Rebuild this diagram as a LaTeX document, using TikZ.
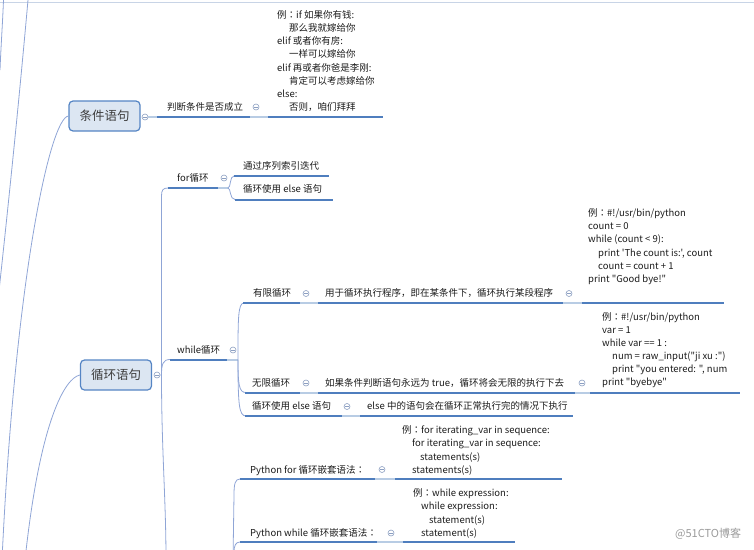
\documentclass[tikz,border=0pt]{standalone}
\usepackage{fontspec}
\newfontfamily\cjk{Noto Sans CJK SC}
\newfontfamily\cjktc{Noto Sans CJK TC}
\newcommand\fwcolon{{\cjktc ：}}
\definecolor{uld}{HTML}{4F7EBE}
\definecolor{ull}{HTML}{B8CCE4}
\definecolor{cnc}{HTML}{8FA5D6}
\definecolor{togc}{HTML}{8C9FC2}
\definecolor{mnf}{HTML}{DCE6F2}
\definecolor{mnb}{HTML}{5585C4}
\definecolor{txc}{HTML}{1C1C1C}
\definecolor{wmc}{HTML}{9A9A9A}
\definecolor{topc}{HTML}{C8D4E6}
\tikzset{
 ul/.style={draw=uld, line width=2pt},
 ulL/.style={draw=ull, line width=2pt},
 conn/.style={draw=cnc, line width=0.8pt},
 tog/.style={circle, draw=togc, fill=white, minimum size=6pt, inner sep=0pt, line width=0.6pt,
   path picture={\draw[togc, line width=0.6pt] ([xshift=-1.7pt]path picture bounding box.center) -- ([xshift=1.7pt]path picture bounding box.center);}},
 lbl/.style={anchor=base west, inner sep=0pt, font=\cjk\fontsize{9.5}{11}\selectfont, text=txc},
 mainnode/.style={draw=mnb, fill=mnf, line width=1.2pt, rounded corners=4pt, minimum width=71pt, minimum height=30pt, font=\cjk\fontsize{12.5}{14}\selectfont, text=txc!85, inner sep=0pt},
 wm/.style={anchor=base west, inner sep=0pt, font=\cjk\fontsize{11}{13}\selectfont, text=wmc}
}
\begin{document}
\begin{tikzpicture}[x=1pt,y=-1pt]
\useasboundingbox (0,0) rectangle (754,549);
\clip (0,0) rectangle (754,549);
% top border and far-left lines
\draw[topc, line width=0.8pt] (0,2.5) -- (754,2.5);
\draw[conn] (3.5,0) .. controls (2.5,25) and (1,45) .. (0,70);
\draw[conn] (28,0) .. controls (20,90) and (10,190) .. (-2,300);

% main nodes
\node[mainnode] (cond) at (104.5,116) {条件语句};
\node[mainnode] (loop) at (116,375) {循环语句};
\draw[conn] (cond.west) .. controls (50,118) and (15,280) .. (2,560);
\draw[conn] (loop.west) .. controls (65,378) and (40,420) .. (25,560);

% ---------- 条件语句 branch
\node[tog] (tc) at (145,117) {};
\node[lbl] (pd) at (167,110.5) {判断条件是否成立};
\node[tog] (tpd) at (256,107) {};
\draw[ulL] (tc.east) -- (157,117);
\draw[ul] (157,117) -- (250,117);
\draw[ulL] (250,117) -- (268,117);
\draw[ul] (268,117) -- (383,117);
\node[lbl] (c1) at (277,18.5) {例\fwcolon if 如果你有钱:};
\node[lbl] (c2) at (289,31.64) {那么我就嫁给你};
\node[lbl] (c3) at (277,44.78) {elif 或者你有房:};
\node[lbl] (c4) at (289,57.92) {一样可以嫁给你};
\node[lbl] (c5) at (277,71.06) {elif 再或者你爸是李刚:};
\node[lbl] (c6) at (289,84.2) {肯定可以考虑嫁给你};
\node[lbl] (c7) at (277,97.34) {else:};
\node[lbl] (c8) at (289,110.5) {否则，咱们拜拜};

% ---------- 循环语句 spine
\node[tog] (tl) at (157,375) {};
\draw[conn] (tl.east) -- (161.5,375) -- (161.5,196) .. controls (161.5,190) and (163,188) .. (168,188);
\draw[conn] (161.5,375) .. controls (161.5,364) and (163,359.5) .. (170,359.5);
\draw[conn] (161.5,375) .. controls (161.5,450) and (166,500) .. (166,560);

% for循环
\node[lbl] (forl) at (177,181.5) {for循环};
\draw[ul] (168,188) -- (218,188);
\draw[ulL] (218,188) -- (228,188);
\node[tog] (tfor) at (224,178) {};
\draw[conn] (228,188) .. controls (231,188) and (229.5,176) .. (234,176);
\draw[conn] (228,188) .. controls (231,188) and (229.5,199.5) .. (235,199.5);
\node[lbl] (f1) at (243,169.5) {通过序列索引迭代};
\draw[ul] (234,176) -- (329,176);
\node[lbl] (f2) at (243,192.5) {循环使用 else 语句};
\draw[ul] (235,199.5) -- (333,199.5);

% while循环
\node[lbl] (whl) at (177,353.5) {while循环};
\draw[ul] (170,359.5) -- (227,359.5);
\draw[ulL] (227,359.5) -- (238,359.5);
\node[tog] (twh) at (233,350) {};
\draw[conn] (238,359.5) .. controls (238,318) and (238,303) .. (244,303);
\draw[conn] (238,359.5) .. controls (238,385) and (239,392.5) .. (246,392.5);
\draw[conn] (238,359.5) .. controls (238,405) and (239,416) .. (246,416);

% 有限循环
\node[lbl] (yx) at (253,296.5) {有限循环};
\draw[ul] (243,303) -- (300,303);
\draw[ulL] (300,303) -- (318,303);
\node[tog] (tyx) at (306,293.5) {};
\node[lbl] (yx2) at (325,296.5) {用于循环执行程序，即在某条件下，循环执行某段程序};
\draw[ul] (318,303) -- (563,303);
\draw[ulL] (563,303) -- (582,303);
\node[tog] (tyx2) at (569,293.5) {};
\draw[ul] (582,303) -- (724,303);
\node[lbl] (a1) at (588,216.5) {例\fwcolon\#!/usr/bin/python};
\node[lbl] (a2) at (588,229.7) {count = 0};
\node[lbl] (a3) at (588,242.9) {while (count < 9):};
\node[lbl] (a4) at (598,256.1) {print 'The count is:', count};
\node[lbl] (a5) at (598,269.3) {count = count + 1};
\node[lbl] (a6) at (588,282.5) {print "Good bye!"};

% 无限循环
\node[lbl] (wx) at (252,386.5) {无限循环};
\draw[ul] (245,392.5) -- (300,392.5);
\draw[ulL] (300,392.5) -- (318,392.5);
\node[tog] (twx) at (306,383) {};
\node[lbl] (wx2) at (325,386.5) {如果条件判断语句永远为 true，循环将会无限的执行下去};
\draw[ul] (318,392.5) -- (575,392.5);
\draw[ulL] (575,392.5) -- (590,392.5);
\node[tog] (twx2) at (582,383) {};
\draw[ul] (590,392.5) -- (740,392.5);
\node[lbl] (b1) at (602,320.5) {例\fwcolon\#!/usr/bin/python};
\node[lbl] (b2) at (602,333.5) {var = 1};
\node[lbl] (b3) at (602,346.5) {while var == 1 :};
\node[lbl] (b4) at (612,359.5) {num = raw\_input("ji xu :")};
\node[lbl] (b5) at (612,372.5) {print "you entered: ", num};
\node[lbl] (b6) at (602,385.5) {print "byebye"};

% while else
\node[lbl] (we) at (252,409.5) {循环使用 else 语句};
\draw[ul] (245,416) -- (342,416);
\draw[ulL] (342,416) -- (360,416);
\node[tog] (twe) at (347,406.5) {};
\node[lbl] (we2) at (367,409.5) {else 中的语句会在循环正常执行完的情况下执行};
\draw[ul] (360,416) -- (573,416);

% Python nested
\draw[conn] (240,479) .. controls (235,479) and (234,484) .. (234,495) -- (233,560);
\draw[conn] (240,542) .. controls (235.5,542) and (234,546) .. (234,552) -- (234,560);
\node[lbl] (pf) at (250,473.5) {Python for 循环嵌套语法\fwcolon};
\draw[ul] (240,479) -- (375,479);
\draw[ulL] (375,479) -- (395,479);
\node[tog] (tpf) at (382,469.5) {};
\draw[ul] (395,479) -- (562,479);
\node[lbl] (p1) at (402,433.5) {例\fwcolon for iterating\_var in sequence:};
\node[lbl] (p2) at (412,446.8) {for iterating\_var in sequence:};
\node[lbl] (p3) at (420,460.2) {statements(s)};
\node[lbl] (p4) at (412,473.5) {statements(s)};

\node[lbl] (pw) at (250,536.5) {Python while 循环嵌套语法\fwcolon};
\draw[ul] (240,542) -- (377,542);
\draw[ulL] (377,542) -- (403,542);
\node[tog] (tpw) at (391,533) {};
\draw[ul] (403,542) -- (515,542);
\node[lbl] (q1) at (413,496.5) {例\fwcolon while expression:};
\node[lbl] (q2) at (421,509.8) {while expression:};
\node[lbl] (q3) at (429,523.2) {statement(s)};
\node[lbl] (q4) at (421,536.5) {statement(s)};

\node[wm] (wmk) at (675,537) {@51CTO博客};
\end{tikzpicture}
\end{document}
